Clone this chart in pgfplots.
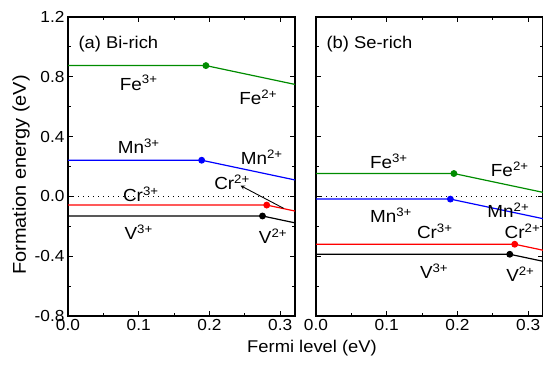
\documentclass[border=0pt]{standalone}
\usepackage{fontspec}
\setmainfont{Liberation Sans}[FakeStretch=1.08]
\usepackage{pgfplots}
\pgfplotsset{compat=1.18}
\definecolor{fegreen}{RGB}{0,140,0}
\definecolor{mnblue}{RGB}{0,0,255}
\definecolor{crred}{RGB}{255,0,0}
\newcommand{\lab}[2]{#1\textsuperscript{#2}}
\pgfplotsset{
  panel/.style={
    scale only axis, width=227pt, height=299pt,
    xmin=0, xmax=0.321, ymin=-0.8, ymax=1.2,
    anchor=south west, clip mode=individual,
    xtick={0,0.1,0.2,0.3}, minor xtick={0.05,0.15,0.25},
    ytick={-0.8,-0.4,0,0.4,0.8,1.2}, minor ytick={-0.6,-0.2,0.2,0.6,1.0},
    tick align=inside, major tick length=5pt, minor tick length=3pt,
    tick style={black, line width=1pt},
    axis line style={line width=1.3pt},
    xticklabel style={/pgf/number format/.cd, fixed, fixed zerofill, precision=1, assume math mode=true},
    yticklabel style={/pgf/number format/.cd, fixed, fixed zerofill, precision=1, assume math mode=true},
    tick label style={font=\fontsize{16}{16}\selectfont},
    every axis plot/.append style={line width=1.2pt},
  },
  dot/.style={only marks, mark=*, mark size=2.8pt},
  zeroline/.style={black, line width=1.2pt, dash pattern=on 1.3pt off 3.7pt},
}
\tikzset{tag/.style={font=\fontsize{17.5}{17.5}\selectfont, inner sep=0pt}}
\begin{document}
\begin{tikzpicture}[x=1pt,y=1pt]
% ---------------- panel (a)
\begin{axis}[panel, at={(68pt,49pt)}]
\addplot[zeroline] coordinates {(0,0) (0.321,0)};
\addplot[fegreen] coordinates {(0,0.875) (0.195,0.875) (0.321,0.749)};
\addplot[fegreen, dot] coordinates {(0.195,0.875)};
\addplot[mnblue] coordinates {(0,0.242) (0.189,0.242) (0.321,0.110)};
\addplot[mnblue, dot] coordinates {(0.189,0.242)};
\addplot[crred] coordinates {(0,-0.058) (0.281,-0.058) (0.321,-0.098)};
\addplot[crred, dot] coordinates {(0.281,-0.058)};
\addplot[black] coordinates {(0,-0.131) (0.275,-0.131) (0.321,-0.177)};
\addplot[black, dot] coordinates {(0.275,-0.131)};
\draw[-stealth, line width=0.9pt] (axis cs:0.305,-0.08) -- (axis cs:0.244,0.072);
\node[anchor=west, font=\fontsize{17}{17}\selectfont] at (axis cs:0.010,1.02) {(a) Bi-rich};
\node[tag] at (axis cs:0.100,0.76) {\lab{Fe}{3+}};
\node[tag] at (axis cs:0.269,0.665) {\lab{Fe}{2+}};
\node[tag] at (axis cs:0.100,0.335) {\lab{Mn}{3+}};
\node[tag] at (axis cs:0.274,0.262) {\lab{Mn}{2+}};
\node[tag] at (axis cs:0.103,0.013) {\lab{Cr}{3+}};
\node[tag] at (axis cs:0.232,0.093) {\lab{Cr}{2+}};
\node[tag] at (axis cs:0.100,-0.24) {\lab{V}{3+}};
\node[tag] at (axis cs:0.290,-0.267) {\lab{V}{2+}};
\end{axis}
% ---------------- panel (b)
\begin{axis}[panel, at={(316pt,49pt)}, yticklabels={}]
\addplot[zeroline] coordinates {(0,0) (0.321,0)};
\addplot[fegreen] coordinates {(0,0.153) (0.195,0.153) (0.321,0.027)};
\addplot[fegreen, dot] coordinates {(0.195,0.153)};
\addplot[mnblue] coordinates {(0,-0.018) (0.190,-0.018) (0.321,-0.149)};
\addplot[mnblue, dot] coordinates {(0.190,-0.018)};
\addplot[crred] coordinates {(0,-0.320) (0.281,-0.320) (0.321,-0.360)};
\addplot[crred, dot] coordinates {(0.281,-0.320)};
\addplot[black] coordinates {(0,-0.387) (0.274,-0.387) (0.321,-0.434)};
\addplot[black, dot] coordinates {(0.274,-0.387)};
\node[anchor=west, font=\fontsize{17}{17}\selectfont] at (axis cs:0.010,1.02) {(b) Se-rich};
\node[tag] at (axis cs:0.103,0.233) {\lab{Fe}{3+}};
\node[tag] at (axis cs:0.274,0.18) {\lab{Fe}{2+}};
\node[tag] at (axis cs:0.106,-0.127) {\lab{Mn}{3+}};
\node[tag] at (axis cs:0.272,-0.093) {\lab{Mn}{2+}};
\node[tag] at (axis cs:0.168,-0.233) {\lab{Cr}{3+}};
\node[tag] at (axis cs:0.292,-0.233) {\lab{Cr}{2+}};
\node[tag] at (axis cs:0.167,-0.50) {\lab{V}{3+}};
\node[tag] at (axis cs:0.289,-0.52) {\lab{V}{2+}};
\end{axis}
\node[rotate=90, font=\fontsize{18.5}{18.5}\selectfont] at (21pt,190pt) {Formation energy (eV)};
\node[font=\fontsize{17}{17}\selectfont] at (312pt,17pt) {Fermi level (eV)};
\pgfresetboundingbox
\path[use as bounding box] (0,0) rectangle (543pt,365pt);
\end{tikzpicture}
\end{document}
